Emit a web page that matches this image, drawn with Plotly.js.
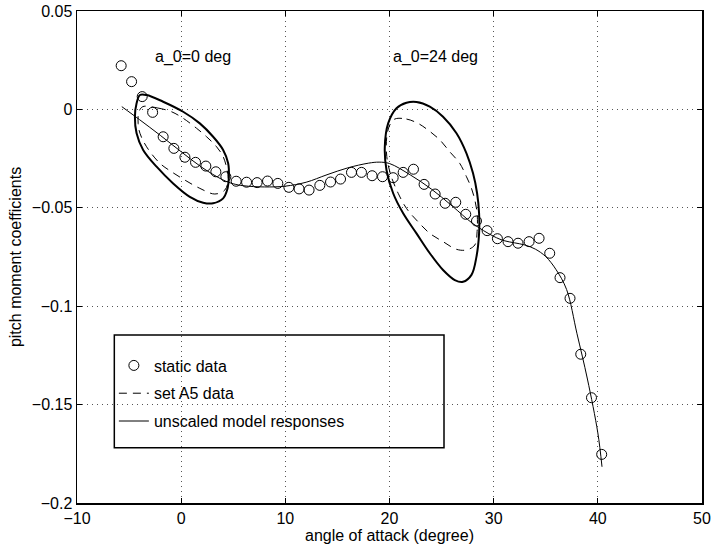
<!DOCTYPE html>
<html>
<head>
<meta charset="utf-8">
<script src="https://cdn.plot.ly/plotly-3.0.1.min.js"></script>
<style>html,body{margin:0;padding:0;background:#fff;}#chart{width:712px;height:552px;}</style>
</head>
<body>
<div id="chart"></div>
<script>
// static data (circles)
const staticX = [-5.76,-4.76,-3.74,-2.74,-1.73,-0.70,0.36,1.38,2.37,3.33,4.29,5.28,6.28,7.29,8.29,9.28,10.34,11.32,12.28,13.31,14.34,15.30,16.35,17.31,18.33,19.33,20.35,21.31,22.30,23.32,24.38,25.34,26.36,27.32,28.35,29.37,30.36,31.38,32.34,33.40,34.36,35.38,36.37,37.33,38.36,39.39,40.37];
const staticY = [0.0222,0.0141,0.0065,-0.0015,-0.0139,-0.0198,-0.0243,-0.0269,-0.0288,-0.0317,-0.0342,-0.0365,-0.0370,-0.0372,-0.0364,-0.0376,-0.0396,-0.0404,-0.0410,-0.0386,-0.0369,-0.0354,-0.0320,-0.0320,-0.0337,-0.0342,-0.0347,-0.0320,-0.0304,-0.0381,-0.0430,-0.0477,-0.0472,-0.0533,-0.0567,-0.0616,-0.0657,-0.0672,-0.0680,-0.0672,-0.0655,-0.0731,-0.0855,-0.0960,-0.1244,-0.1465,-0.1753];

// unscaled model response (static curve)
const modelX = [-5.7,-4,-2,0,2,4,5,6,8,10,12,14,16,18,19,20,22,24,26,28,30,31,32,33,34,35,36,37,38,39,40,40.4];
const modelY = [0.0014,-0.0052,-0.0132,-0.0215,-0.0295,-0.0358,-0.0378,-0.0388,-0.0394,-0.0390,-0.0370,-0.0332,-0.0297,-0.0273,-0.0268,-0.0275,-0.0333,-0.0404,-0.0490,-0.0580,-0.0645,-0.0667,-0.0678,-0.0689,-0.0710,-0.0748,-0.0815,-0.0915,-0.1140,-0.1370,-0.1644,-0.1816];

// model hysteresis loop, a_0 = 0 deg
const loop0X = [-3.96,-3.32,-1.73,0.19,1.79,3.07,4.03,4.51,4.58,4.41,4.03,3.07,2.11,0.83,-0.77,-2.36,-3.65,-4.28,-4.44,-4.28,-3.96];
const loop0Y = [0.0073,0.0073,0.0039,-0.0012,-0.0071,-0.0139,-0.0206,-0.0274,-0.0342,-0.0410,-0.0452,-0.0477,-0.0474,-0.0444,-0.0376,-0.0291,-0.0206,-0.0121,-0.0037,0.0031,0.0073];

// set A5 data loop, a_0 = 0 deg
const a5Loop0X = [-3.68,-2.24,-0.92,0.19,1.48,2.44,3.40,4.03,4.41,4.51,4.19,3.23,1.79,0.35,-0.92,-2.04,-3.32,-3.96,-4.13,-4.06,-3.68];
const a5Loop0Y = [0.0014,0.0007,-0.0012,-0.0045,-0.0096,-0.0139,-0.0190,-0.0240,-0.0308,-0.0359,-0.0410,-0.0430,-0.0401,-0.0359,-0.0317,-0.0274,-0.0190,-0.0121,-0.0071,-0.0013,0.0014];

// model hysteresis loop, a_0 = 24 deg
const loop24X = [21.63,22.59,23.87,25.14,26.43,27.39,28.02,28.41,28.60,28.60,28.35,27.87,27.06,26.27,25.14,23.87,22.59,21.31,20.35,19.71,19.55,19.87,20.67,21.63];
const loop24Y = [0.0034,0.0038,0.0014,-0.0037,-0.0121,-0.0223,-0.0325,-0.0426,-0.0528,-0.0630,-0.0748,-0.0841,-0.0876,-0.0867,-0.0816,-0.0731,-0.0630,-0.0528,-0.0426,-0.0308,-0.0190,-0.0071,0.0006,0.0034];

// set A5 data loop, a_0 = 24 deg
const a5Loop24X = [20.51,21.63,22.74,23.70,24.83,25.78,26.74,27.39,27.87,28.19,28.41,28.41,28.19,27.39,26.43,25.14,23.87,22.74,21.63,20.83,20.12,19.74,19.74,20.03,20.51];
const a5Loop24Y = [-0.0049,-0.0049,-0.0071,-0.0105,-0.0155,-0.0215,-0.0274,-0.0342,-0.0401,-0.0460,-0.0528,-0.0621,-0.0689,-0.0714,-0.0711,-0.0672,-0.0630,-0.0571,-0.0503,-0.0426,-0.0333,-0.0240,-0.0139,-0.0079,-0.0049];

const xTickVals = [-10,0,10,20,30,40,50];
const xTickText = ["\u221210","0","10","20","30","40","50"];
const yTickVals = [0.05,0,-0.05,-0.1,-0.15,-0.2];
const yTickText = ["0.05","0","\u22120.05","\u22120.1","\u22120.15","\u22120.2"];

const labels = ["static data","set A5 data","unscaled model responses"];
const loopLabels = ["a_0=0 deg","a_0=24 deg"];
const loopLabelX = [-2.74, 20.12];
const loopLabelY = [0.0266, 0.0266];

const FONT = "'Liberation Sans', Arial, Helvetica, sans-serif";

const traces = [
  {x: staticX, y: staticY, type:'scatter', mode:'markers', name: labels[0], legendrank:1, legendgroup:'a',
   marker:{symbol:'circle-open', size:10, color:'#000', line:{width:1, color:'#000'}}},
  {x: a5Loop0X, y: a5Loop0Y, type:'scatter', mode:'lines', name: labels[1], legendrank:2, legendgroup:'b',
   line:{color:'#000', width:1, dash:'8px,6px', shape:'spline', smoothing:1}},
  {x: a5Loop24X, y: a5Loop24Y, type:'scatter', mode:'lines', name: labels[1], showlegend:false,
   line:{color:'#000', width:1, dash:'8px,6px', shape:'spline', smoothing:1}},
  {x: modelX, y: modelY, type:'scatter', mode:'lines', name: labels[2], legendrank:3, legendgroup:'c',
   line:{color:'#000', width:1, shape:'spline', smoothing:1}},
  {x: loop0X, y: loop0Y, type:'scatter', mode:'lines', showlegend:false,
   line:{color:'#000', width:2, shape:'spline', smoothing:1}},
  {x: loop24X, y: loop24Y, type:'scatter', mode:'lines', showlegend:false,
   line:{color:'#000', width:2, shape:'spline', smoothing:1}}
];

const axisCommon = {
  showline:true, linecolor:'#000', linewidth:1.5, mirror:'ticks',
  ticks:'inside', ticklen:5, tickwidth:1, tickcolor:'#000',
  showgrid:true, gridcolor:'#555', gridwidth:1, griddash:'1px,4px',
  zeroline:false, tickfont:{family:FONT, size:16, color:'#000'}
};

const layout = {
  width:712, height:552,
  margin:{l:77, r:10, t:11, b:49},
  paper_bgcolor:'#fff', plot_bgcolor:'#fff',
  font:{family:FONT, size:16, color:'#000'},
  showlegend:true,
  legend:{x:0.059, y:0.314, xanchor:'left', yanchor:'top', bgcolor:'rgba(0,0,0,0)',
          borderwidth:0, tracegroupgap:4, font:{family:FONT, size:16, color:'#000'}},
  xaxis: Object.assign({}, axisCommon, {range:[-10,50], tickvals:xTickVals, ticktext:xTickText,
          title:{text:'angle of attack (degree)', font:{family:FONT, size:16, color:'#000'}, standoff:2}}),
  yaxis: Object.assign({}, axisCommon, {range:[-0.2,0.05], tickvals:yTickVals, ticktext:yTickText,
          title:{text:'pitch moment coefficients', font:{family:FONT, size:16, color:'#000'}, standoff:6}}),
  shapes:[{type:'rect', xref:'paper', yref:'paper', x0:0.0597, x1:0.5872, y0:0.1124, y1:0.3415,
           line:{color:'#000', width:1.5}, fillcolor:'rgba(0,0,0,0)', layer:'above'}],
  annotations: loopLabels.map((t,i)=>({x:loopLabelX[i], y:loopLabelY[i], xref:'x', yref:'y', text:t,
           showarrow:false, xanchor:'left', yanchor:'middle', font:{family:FONT, size:16, color:'#000'}}))
};

Plotly.newPlot('chart', traces, layout, {staticPlot:true, displayModeBar:false});
</script>
</body>
</html>
